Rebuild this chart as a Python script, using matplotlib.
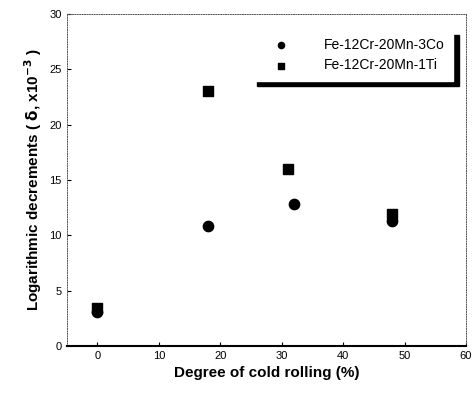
import numpy as np
import matplotlib.pyplot as plt

# Degree of cold rolling (%) and logarithmic decrement (x10^-3)
x_co = [0, 18, 32, 48]
y_co = [3.1, 10.8, 12.8, 11.3]
x_ti = [0, 18, 31, 48]
y_ti = [3.4, 23.0, 16.0, 11.9]
labels = ['Fe-12Cr-20Mn-3Co', 'Fe-12Cr-20Mn-1Ti']

plt.rcParams['font.family'] = 'Liberation Sans'
fig = plt.figure(figsize=(4.77, 3.98), dpi=100)
ax = fig.add_axes([0.14, 0.131, 0.837, 0.834])

ax.scatter(x_co, y_co, marker='o', s=55, color='black', label=labels[0], zorder=3)
ax.scatter(x_ti, y_ti, marker='s', s=60, color='black', label=labels[1], zorder=3)

ax.set_xlim(-5, 60)
ax.set_ylim(0, 30)
ax.set_xticks(np.arange(0, 61, 10))
ax.set_yticks(np.arange(0, 31, 5))
ax.tick_params(direction='in', length=3, labelsize=8)
for s in ['left', 'top', 'right']:
    ax.spines[s].set_linestyle((0, (1, 1.5)))
    ax.spines[s].set_linewidth(0.7)
    ax.spines[s].set_color('#555555')
ax.spines['bottom'].set_linewidth(1.5)

ax.set_xlabel('Degree of cold rolling (%)', fontsize=11, fontweight='bold')
ax.set_ylabel(r'Logarithmic decrements ( $\mathbf{\delta}$, x10$^{\mathbf{-3}}$ )',
              fontsize=11, fontweight='bold')

leg = ax.legend(loc='upper right', bbox_to_anchor=(0.985, 0.975), fontsize=10,
                handletextpad=1.6, handlelength=3.0, borderpad=0.6, fancybox=False,
                framealpha=1, shadow={'ox': 4, 'oy': -4, 'color': 'black', 'alpha': 1},
                markerscale=0.6)
leg.get_frame().set_edgecolor('white')

fig.savefig('out.png', dpi=100)
